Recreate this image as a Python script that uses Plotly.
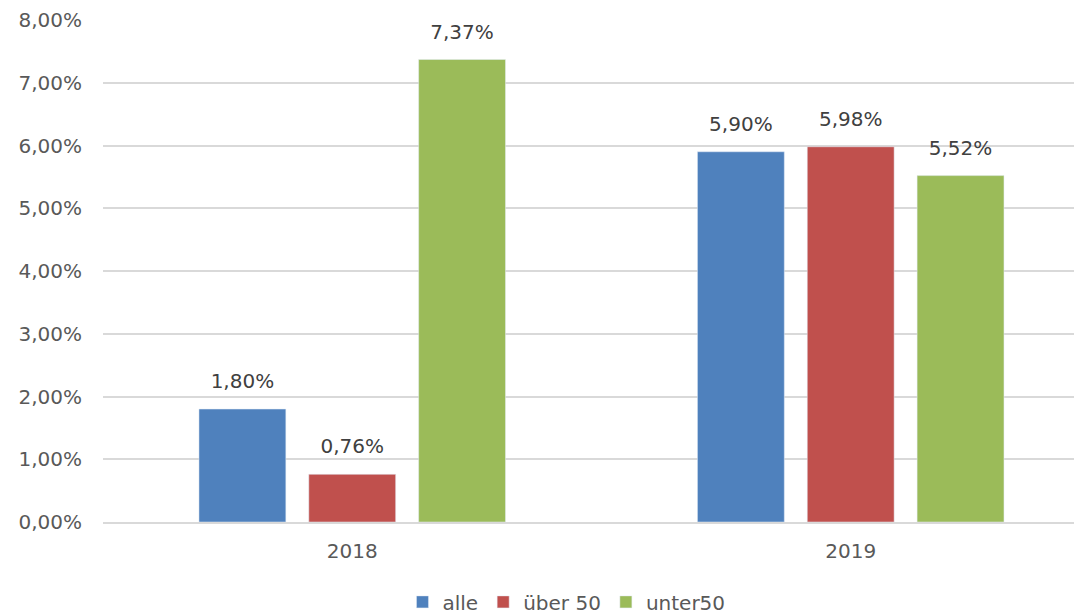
import plotly.graph_objects as go

years = ["2018", "2019"]
series_names = ["alle", "über 50", "unter50"]
alle = [0.0180, 0.0590]
ueber50 = [0.0076, 0.0598]
unter50 = [0.0737, 0.0552]
colors = ["#4F81BD", "#C0504D", "#9BBB59"]

fig = go.Figure()

for name, vals, col in zip(series_names, [alle, ueber50, unter50], colors):
    fig.add_trace(
        go.Bar(
            x=years,
            y=vals,
            name=name,
            marker=dict(color=col),
            hoverinfo="skip",
        )
    )

# value labels: grouped scatter with invisible markers, lifts text a bit off the bars
for name, vals in zip(series_names, [alle, ueber50, unter50]):
    fig.add_trace(
        go.Scatter(
            x=years,
            y=vals,
            name=name,
            mode="markers+text",
            marker=dict(size=24, opacity=0),
            texttemplate="%{y:.2%}",
            textposition="top center",
            textfont=dict(color="#404040", size=20),
            cliponaxis=False,
            showlegend=False,
        )
    )

# page body has an 8px margin, so the figure is a bit smaller than the window
fig.update_layout(
    width=1074,
    height=606,
    margin=dict(l=95, r=2, t=12, b=92),
    plot_bgcolor="white",
    paper_bgcolor="white",
    barmode="group",
    bargap=0.339,
    bargroupgap=0.209,
    scattermode="group",
    scattergap=0.339,
    separators=",.",
    font=dict(family="DejaVu Sans, sans-serif", size=20, color="#595959"),
    legend=dict(
        orientation="h",
        xref="container",
        yref="container",
        x=0.52,
        xanchor="center",
        y=0.02,
        yanchor="middle",
        font=dict(size=20, color="#595959"),
        itemwidth=30,
        traceorder="normal",
    ),
    showlegend=True,
)

fig.update_xaxes(
    range=[-0.5, 1.46],
    showgrid=False,
    showline=True,
    linecolor="#D9D9D9",
    linewidth=2,
    ticks="",
    automargin=False,
    ticklabelstandoff=10,
    tickfont=dict(size=20, color="#595959"),
)

fig.update_yaxes(
    range=[0, 0.08],
    dtick=0.01,
    tickformat=".2%",
    showgrid=True,
    gridcolor="#D9D9D9",
    gridwidth=2,
    zeroline=False,
    showline=False,
    ticks="",
    automargin=False,
    ticklabelstandoff=20,
    tickfont=dict(size=20, color="#595959"),
)

fig.write_html("out.html")
